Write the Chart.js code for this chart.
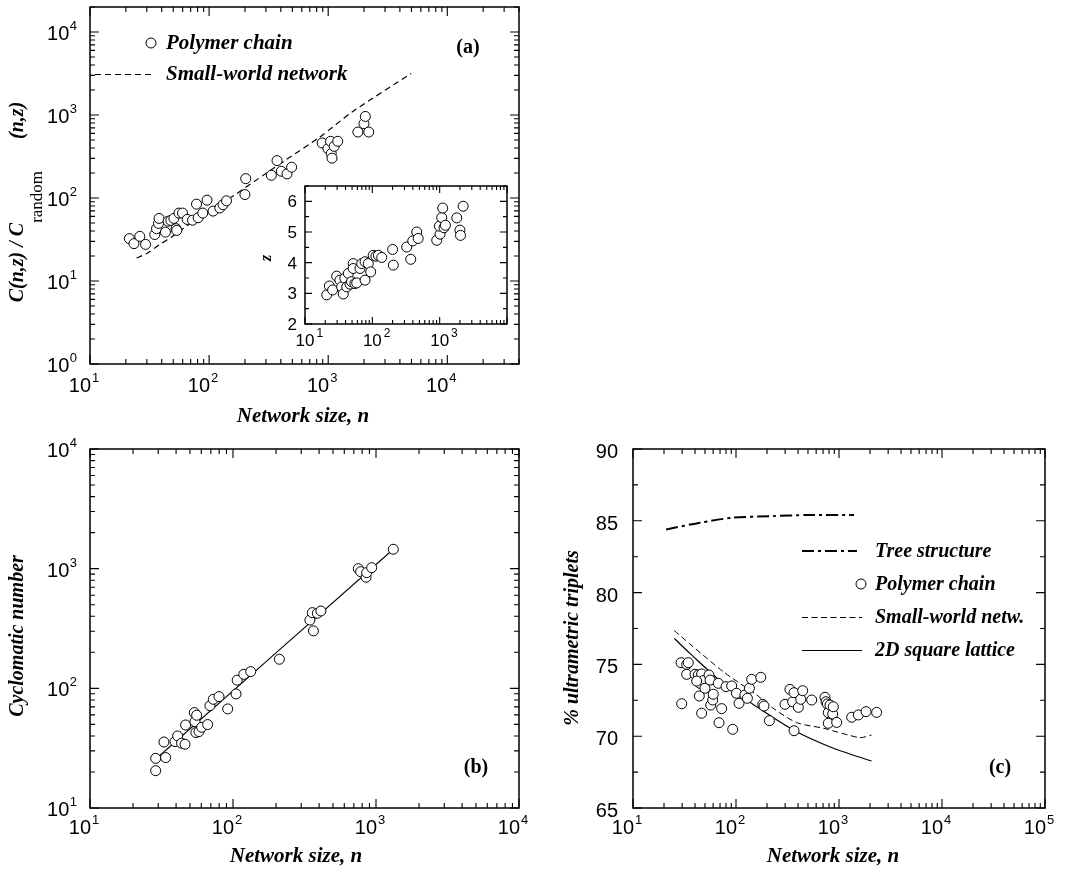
<!DOCTYPE html>
<html>
<head>
<meta charset="utf-8">
<script src="https://cdn.jsdelivr.net/npm/chart.js@4"></script>
<style>
  body { margin: 0; background: #fff; width: 1086px; height: 873px; position: relative; overflow: hidden; }
  canvas { position: absolute; }
</style>
</head>
<body>
<canvas id="chartA" width="540" height="430" style="left:0px;top:0px"></canvas>
<canvas id="chartInset" width="290" height="190" style="left:230px;top:170px"></canvas>
<canvas id="chartB" width="540" height="443" style="left:0px;top:430px"></canvas>
<canvas id="chartC" width="541" height="443" style="left:545px;top:430px"></canvas>
<script>
// (a) clustering ratio vs network size
const nPolyA = [21.4, 23.4, 26.2, 29.3, 35, 36.2, 37.6, 38, 43, 45.3, 47.7, 50.6, 52.8, 53.5, 55.8, 59.8, 65.5, 72.6, 78.4, 80.9, 88.5, 96.1, 108, 123, 131, 140, 200, 203, 333, 372, 404, 451, 493, 890, 995, 1047, 1060, 1077, 1123, 1203, 1775, 1996, 2050, 2190];
const cPolyA = [32.4, 28.2, 34.5, 27.6, 36.3, 42.7, 49.4, 56.8, 38.8, 52.5, 53.7, 56.8, 42.7, 40.7, 65.8, 65.8, 55.2, 54, 84.3, 57.8, 65.8, 94.2, 69.5, 75.9, 83, 92.5, 110, 171, 188, 282, 210, 195, 235, 460, 393, 482, 343, 302, 419, 482, 623, 785, 961, 623];
const nSwA = [24.6, 30, 38.6, 50, 84, 158, 300, 445, 850, 1610, 4970];
const cSwA = [18.9, 21.5, 27.6, 35, 60, 105, 198, 290, 543, 1100, 3170];

// inset: mean degree z vs n
const nInset = [21, 23, 25.7, 29.5, 33, 35, 37, 39, 41.7, 44, 46.6, 49, 52, 52, 55, 58.6, 65.6, 69.5, 78, 78, 87, 94.6, 103, 113, 123, 138, 200, 205, 324, 372, 398, 457, 480, 905, 1014, 990, 1073, 1110, 1160, 1217, 1795, 2000, 2040, 2230];
const zInset = [2.95, 3.24, 3.11, 3.56, 3.43, 3.21, 2.98, 3.49, 3.21, 3.65, 3.30, 3.38, 3.97, 3.81, 3.32, 3.34, 3.81, 3.97, 4.03, 3.43, 3.97, 3.70, 4.24, 4.21, 4.24, 4.17, 4.43, 3.92, 4.51, 4.11, 4.71, 5.0, 4.79, 4.73, 4.93, 5.19, 5.47, 5.78, 5.14, 5.22, 5.46, 5.06, 4.89, 5.84];

// (b) cyclomatic number
const nPolyB = [28.8, 28.8, 32.9, 33.8, 39.3, 41, 43.7, 46.2, 46.6, 53.6, 54.2, 55, 55.7, 57.8, 60.4, 66.5, 69, 72.8, 79.8, 91.8, 105, 107, 119, 133, 211, 345, 359, 365, 389, 412, 752, 781, 852, 861, 933, 1321];
const cycPolyB = [20.5, 26, 35.6, 26.4, 35.9, 40, 34.8, 34.1, 49.4, 62.7, 52.7, 42.7, 59.6, 43.5, 47.3, 49.8, 71.6, 81, 85.3, 67.3, 89.8, 117, 131, 138, 175, 372, 429, 302, 424, 443, 1000, 944, 848, 927, 1019, 1452];
const nFitB = [30.5, 1321];
const cycFitB = [27.2, 1452];

// (c) % ultrametric triplets
const nTree = [21, 44.7, 94, 230, 486, 1400];
const uTree = [84.4, 84.87, 85.22, 85.33, 85.4, 85.4];
const nPolyC = [29.3, 33.2, 34.4, 29.7, 33.2, 40, 43, 44.7, 46.4, 48.2, 41.5, 44, 50, 46.4, 54.7, 56, 56.8, 59.4, 60.2, 67.3, 68.4, 72.6, 80, 90.8, 92.9, 101, 107, 122, 129, 135, 142, 174, 182, 187, 211, 299, 334, 355, 366, 366, 403, 425, 444, 543, 731, 748, 770, 787, 787, 818, 868, 881, 950, 1328, 1540, 1830, 2320];
const uPolyC = [75.12, 75.0, 75.12, 72.26, 74.31, 74.31, 74.26, 73.68, 74.33, 73.87, 73.84, 72.8, 73.34, 71.6, 74.26, 73.91, 72.17, 72.52, 72.92, 73.68, 70.94, 71.92, 73.45, 73.5, 70.48, 72.99, 72.29, 72.87, 72.64, 73.34, 73.96, 74.1, 72.22, 72.1, 71.08, 72.22, 73.26, 72.4, 73.03, 70.38, 72.01, 72.57, 73.17, 72.52, 72.71, 72.4, 72.24, 71.64, 70.9, 72.17, 71.55, 72.05, 70.96, 71.32, 71.48, 71.71, 71.66];
const nSwC = [25.2, 35.7, 75, 159, 230, 389, 710, 1590, 2070];
const uSwC = [77.35, 76.42, 74.5, 72.87, 71.94, 70.94, 70.55, 69.9, 70.08];
const nLat = [25.2, 35.7, 75, 159, 360, 881, 2070];
const uLat = [76.8, 75.77, 73.68, 72.05, 70.43, 69.16, 68.27];

const SANS = '"Liberation Sans", Arial, sans-serif';
const SERIF = '"Liberation Serif", "Times New Roman", serif';
const BI = size => 'italic bold ' + size + 'px ' + SERIF;

function toXY(xs, ys) {
  return xs.map((x, i) => ({ x: x, y: ys[i] }));
}

function circles(xs, ys) {
  return {
    data: toXY(xs, ys), pointRadius: 5, pointBorderWidth: 1,
    pointBorderColor: '#000', pointBackgroundColor: '#fff', showLine: false
  };
}

function line(xs, ys, width, dash) {
  return {
    data: toXY(xs, ys), showLine: true, pointRadius: 0, borderColor: '#000',
    borderWidth: width, borderDash: dash, tension: 0.25, fill: false
  };
}

// axis tick positions (1..9 x 10^k for log axes)
function logTicks(min, max) {
  const out = [];
  for (let k = Math.floor(Math.log10(min)); k <= Math.ceil(Math.log10(max)); k++) {
    for (let m = 1; m <= 9; m++) {
      const v = m * Math.pow(10, k);
      if (v >= min * 0.999 && v <= max * 1.001) out.push({ v: v, major: m === 1, k: k });
    }
  }
  return out;
}

function linTicks(min, max, step, minor) {
  const out = [];
  for (let v = min; v <= max + 1e-9; v += minor) {
    const r = Math.round(v * 100) / 100;
    out.push({ v: r, major: Math.abs(r / step - Math.round(r / step)) < 1e-6 });
  }
  return out;
}

function drawRich(ctx, pieces, cx, cy, rotated) {
  ctx.save();
  ctx.translate(cx, cy);
  if (rotated) ctx.rotate(-Math.PI / 2);
  ctx.textAlign = 'left';
  ctx.textBaseline = 'alphabetic';
  let total = 0;
  pieces.forEach(p => { ctx.font = p.f; p.w = ctx.measureText(p.t).width + (p.gap || 0); total += p.w; });
  let x = -total / 2;
  pieces.forEach(p => { ctx.font = p.f; ctx.fillText(p.t, x, p.dy || 0); x += p.w; });
  ctx.restore();
}

function drawFrame(chart, cfg) {
  const ctx = chart.ctx, a = chart.chartArea, xs = chart.scales.x, ys = chart.scales.y;
  ctx.save();
  ctx.strokeStyle = '#000';
  ctx.fillStyle = '#000';
  ctx.lineWidth = 1.1;

  const xt = logTicks(xs.min, xs.max);
  const yt = cfg.yLog ? logTicks(ys.min, ys.max) : linTicks(ys.min, ys.max, cfg.yStep, cfg.yMinor);

  ctx.beginPath();
  xt.forEach(t => {
    const p = xs.getPixelForValue(t.v), L = t.major ? cfg.major : cfg.minor;
    ctx.moveTo(p, a.bottom); ctx.lineTo(p, a.bottom - L);
    ctx.moveTo(p, a.top); ctx.lineTo(p, a.top + L);
  });
  yt.forEach(t => {
    const p = ys.getPixelForValue(t.v), L = t.major ? cfg.major : cfg.minor;
    ctx.moveTo(a.left, p); ctx.lineTo(a.left + L, p);
    ctx.moveTo(a.right, p); ctx.lineTo(a.right - L, p);
  });
  ctx.stroke();

  ctx.lineWidth = 1.5;
  ctx.strokeRect(a.left, a.top, a.right - a.left, a.bottom - a.top);

  // x tick labels: 10^k
  ctx.textBaseline = 'alphabetic';
  xt.filter(t => t.major && (cfg.xMaxK === undefined || t.k <= cfg.xMaxK)).forEach(t => {
    const p = xs.getPixelForValue(t.v), base = a.bottom + cfg.xGap;
    ctx.font = cfg.dig;
    const w = ctx.measureText('10').width;
    let sx;
    if (cfg.xCenter) {
      ctx.textAlign = 'center'; ctx.fillText('10', p, base); sx = p + w / 2 + 2;
    } else {
      ctx.textAlign = 'right'; ctx.fillText('10', p + 1, base); sx = p + 2;
    }
    ctx.font = cfg.sup; ctx.textAlign = 'left';
    ctx.fillText(String(t.k), sx, base - cfg.supUp);
  });

  // y tick labels
  yt.filter(t => t.major).forEach(t => {
    const p = ys.getPixelForValue(t.v);
    if (cfg.yLog) {
      ctx.font = cfg.sup; ctx.textAlign = 'right';
      const right = a.left - cfg.yGap;
      ctx.fillText(String(t.k), right, p + cfg.yBase - cfg.supUp);
      const sw = ctx.measureText(String(t.k)).width;
      ctx.font = cfg.dig;
      ctx.fillText('10', right - sw - 0.5, p + cfg.yBase);
    } else {
      ctx.font = cfg.dig; ctx.textAlign = 'right';
      ctx.fillText(String(t.v), a.left - cfg.yGap, p + cfg.yBase);
    }
  });
  ctx.restore();

  if (cfg.extra) {
    ctx.save();
    ctx.fillStyle = '#000'; ctx.strokeStyle = '#000';
    cfg.extra(ctx);
    ctx.restore();
  }
}

function legendCircle(ctx, x, y) {
  ctx.beginPath(); ctx.lineWidth = 1; ctx.arc(x, y, 5, 0, Math.PI * 2);
  ctx.fillStyle = '#fff'; ctx.fill(); ctx.stroke(); ctx.fillStyle = '#000';
}

function legendLine(ctx, x1, x2, y, width, dash) {
  ctx.beginPath(); ctx.lineWidth = width; ctx.setLineDash(dash);
  ctx.moveTo(x1, y); ctx.lineTo(x2, y); ctx.stroke(); ctx.setLineDash([]);
}

function legendText(ctx, t, x, y, size) {
  ctx.font = BI(size || 20); ctx.textAlign = 'left'; ctx.textBaseline = 'middle';
  ctx.fillText(t, x, y);
}

function panelLabel(ctx, t, x, y) {
  ctx.font = 'bold 20px ' + SERIF; ctx.textAlign = 'center'; ctx.textBaseline = 'middle';
  ctx.fillText(t, x, y);
}

function makeChart(id, datasets, scales, padding, cfg) {
  return new Chart(document.getElementById(id), {
    type: 'scatter',
    data: { datasets: datasets },
    options: {
      responsive: false, animation: false, devicePixelRatio: 1,
      layout: { padding: padding },
      plugins: { legend: { display: false }, tooltip: { enabled: false } },
      scales: scales
    },
    plugins: [{ id: 'frame', afterDraw(chart) { drawFrame(chart, cfg); } }]
  });
}

const mainLabels = { dig: '20px ' + SANS, sup: '13px ' + SANS, supUp: 10, major: 9, minor: 5, yGap: 13, yBase: 8 };

// panel (a)
makeChart('chartA',
  [circles(nPolyA, cPolyA), line(nSwA, cSwA, 1.2, [6, 4])],
  {
    x: { type: 'logarithmic', min: 10, max: 40000, display: false },
    y: { type: 'logarithmic', min: 1, max: 20000, display: false }
  },
  { left: 90, top: 7, right: 21, bottom: 66 },
  Object.assign({}, mainLabels, {
    yLog: true, xGap: 28,
    extra(ctx) {
      legendCircle(ctx, 151, 43);
      legendText(ctx, 'Polymer chain', 166, 44, 21);
      legendLine(ctx, 95, 152, 74.5, 1.2, [6, 4]);
      legendText(ctx, 'Small-world network', 166, 75, 21);
      panelLabel(ctx, '(a)', 468, 48);
      drawRich(ctx, [{ t: 'Network size, n', f: BI(21) }], 303, 422, false);
      drawRich(ctx, [
        { t: 'C(n,z) / C', f: BI(20) },
        { t: 'random', f: '17px ' + SERIF, dy: 19, gap: 32 },
        { t: '(n,z)', f: BI(20) }
      ], 23, 202, true);
    }
  }));

// inset
makeChart('chartInset',
  [circles(nInset, zInset)],
  {
    x: { type: 'logarithmic', min: 10, max: 10000, display: false },
    y: { type: 'linear', min: 2, max: 6.5, display: false }
  },
  { left: 75, top: 16, right: 13, bottom: 36 },
  {
    yLog: false, yStep: 1, yMinor: 0.5, dig: '17px ' + SANS, sup: '12px ' + SANS, supUp: 9,
    major: 7, minor: 4, xGap: 22, xCenter: true, xMaxK: 3, yGap: 8, yBase: 6,
    extra(ctx) {
      drawRich(ctx, [{ t: 'z', f: BI(16) }], 41, 88, true);
    }
  });

// panel (b)
makeChart('chartB',
  [circles(nPolyB, cycPolyB), line(nFitB, cycFitB, 1.1, [])],
  {
    x: { type: 'logarithmic', min: 10, max: 10000, display: false },
    y: { type: 'logarithmic', min: 10, max: 10000, display: false }
  },
  { left: 90, top: 19, right: 21, bottom: 65 },
  Object.assign({}, mainLabels, {
    yLog: true, xGap: 26,
    extra(ctx) {
      panelLabel(ctx, '(b)', 476, 338);
      drawRich(ctx, [{ t: 'Network size, n', f: BI(21) }], 296, 432, false);
      drawRich(ctx, [{ t: 'Cyclomatic number', f: BI(20) }], 23, 206, true);
    }
  }));

// panel (c)
makeChart('chartC',
  [circles(nPolyC, uPolyC), line(nTree, uTree, 2, [12, 4, 3, 4]), line(nSwC, uSwC, 1, [6, 3.5]), line(nLat, uLat, 1.2, [])],
  {
    x: { type: 'logarithmic', min: 10, max: 100000, display: false },
    y: { type: 'linear', min: 65, max: 90, display: false }
  },
  { left: 88, top: 19, right: 41, bottom: 65 },
  Object.assign({}, mainLabels, {
    yLog: false, yStep: 5, yMinor: 2.5, xGap: 26, yGap: 15, yBase: 9,
    extra(ctx) {
      legendLine(ctx, 257, 312, 121, 2, [12, 4, 3, 4]);
      legendText(ctx, 'Tree structure', 330, 122);
      legendCircle(ctx, 316, 154);
      legendText(ctx, 'Polymer chain', 330, 155);
      legendLine(ctx, 257, 317, 187.5, 1, [6, 3.5]);
      legendText(ctx, 'Small-world netw.', 330, 188);
      legendLine(ctx, 257, 317, 220.5, 1.2, []);
      legendText(ctx, '2D square lattice', 330, 221);
      panelLabel(ctx, '(c)', 455, 338);
      drawRich(ctx, [{ t: 'Network size, n', f: BI(21) }], 288, 432, false);
      drawRich(ctx, [{ t: '% ultrametric triplets', f: BI(20) }], 33, 208, true);
    }
  }));
</script>
</body>
</html>
